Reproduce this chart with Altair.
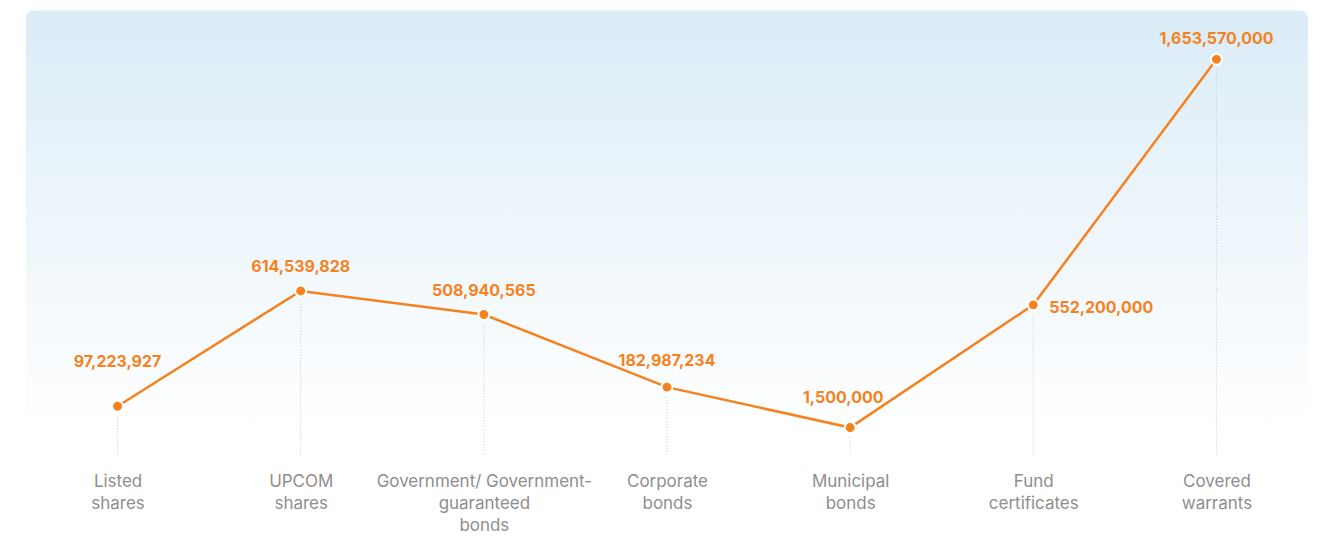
import altair as alt
import pandas as pd

categories = [
    "Listed\nshares",
    "UPCOM\nshares",
    "Government/ Government-\nguaranteed\nbonds",
    "Corporate\nbonds",
    "Municipal\nbonds",
    "Fund\ncertificates",
    "Covered\nwarrants",
]
values = [97223927, 614539828, 508940565, 182987234, 1500000, 552200000, 1653570000]

df = pd.DataFrame({"category": categories, "value": values})
df["label"] = df["value"].map(lambda v: f"{v:,}")

W, H = 1285, 445
ORANGE = "#F5821F"

x_enc = alt.X(
    "category:N",
    sort=categories,
    scale=alt.Scale(type="point", padding=0.5),
    axis=alt.Axis(
        title=None, labelAngle=0, domain=False, ticks=False, grid=False,
        labelExpr="split(datum.label, '\\n')",
        labelFont="Inter", labelFontSize=17, labelColor="#8e8e8e",
        labelPadding=19, labelLineHeight=22, labelBaseline="top", labelLimit=0,
    ),
)
y_enc = alt.Y(
    "value:Q",
    scale=alt.Scale(domain=[-119.6e6, 1872.4e6], nice=False, zero=False),
    axis=None,
)

bg = alt.Chart(pd.DataFrame({"a": [0]})).mark_rect(
    fill=alt.Gradient(
        gradient="linear",
        stops=[
            alt.GradientStop(color="#dbecf7", offset=0),
            alt.GradientStop(color="#ffffff", offset=0.95),
        ],
        x1=0, x2=0, y1=0, y2=1,
    ),
    cornerRadiusTopLeft=8,
    cornerRadiusTopRight=8,
).encode(x=alt.value(0), x2=alt.value(W), y=alt.value(0), y2=alt.value(H))

base = alt.Chart(df)

rules = base.mark_rule(color="#c4c8cc", strokeDash=[1, 2], strokeWidth=1, yOffset=10).encode(
    x=x_enc, y=y_enc, y2=alt.value(H)
)

line = base.mark_line(color=ORANGE, strokeWidth=2.5).encode(x=x_enc, y=y_enc)

points = base.mark_point(
    filled=True, fill=ORANGE, size=120, stroke="white", strokeWidth=2, opacity=1
).encode(x=x_enc, y=y_enc)

txt_kw = dict(font="Inter", fontSize=16, fontWeight="bold", color=ORANGE)

lab_default = base.transform_filter(
    alt.FieldOneOfPredicate(field="value", oneOf=[614539828, 508940565])
).mark_text(dy=-24, **txt_kw).encode(x=x_enc, y=y_enc, text="label:N")

lab_corp = base.transform_filter(alt.datum.value == 182987234).mark_text(
    dy=-26, **txt_kw
).encode(x=x_enc, y=y_enc, text="label:N")

lab_cov = base.transform_filter(alt.datum.value == 1653570000).mark_text(
    dy=-20, **txt_kw
).encode(x=x_enc, y=y_enc, text="label:N")

lab_listed = base.transform_filter(alt.datum.value == 97223927).mark_text(
    dy=-44, **txt_kw
).encode(x=x_enc, y=y_enc, text="label:N")

lab_muni = base.transform_filter(alt.datum.value == 1500000).mark_text(
    dy=-30, dx=-7, **txt_kw
).encode(x=x_enc, y=y_enc, text="label:N")

lab_fund = base.transform_filter(alt.datum.value == 552200000).mark_text(
    dx=16, dy=3, align="left", **txt_kw
).encode(x=x_enc, y=y_enc, text="label:N")

chart = alt.layer(
    bg, rules, line, points, lab_default, lab_corp, lab_cov, lab_listed, lab_muni, lab_fund
).properties(
    width=W, height=H,
    padding={"left": 18, "top": 2, "right": 10, "bottom": 0},
).configure_view(stroke=None)

chart.save("out.html", embed_options={"renderer": "svg", "actions": False})
